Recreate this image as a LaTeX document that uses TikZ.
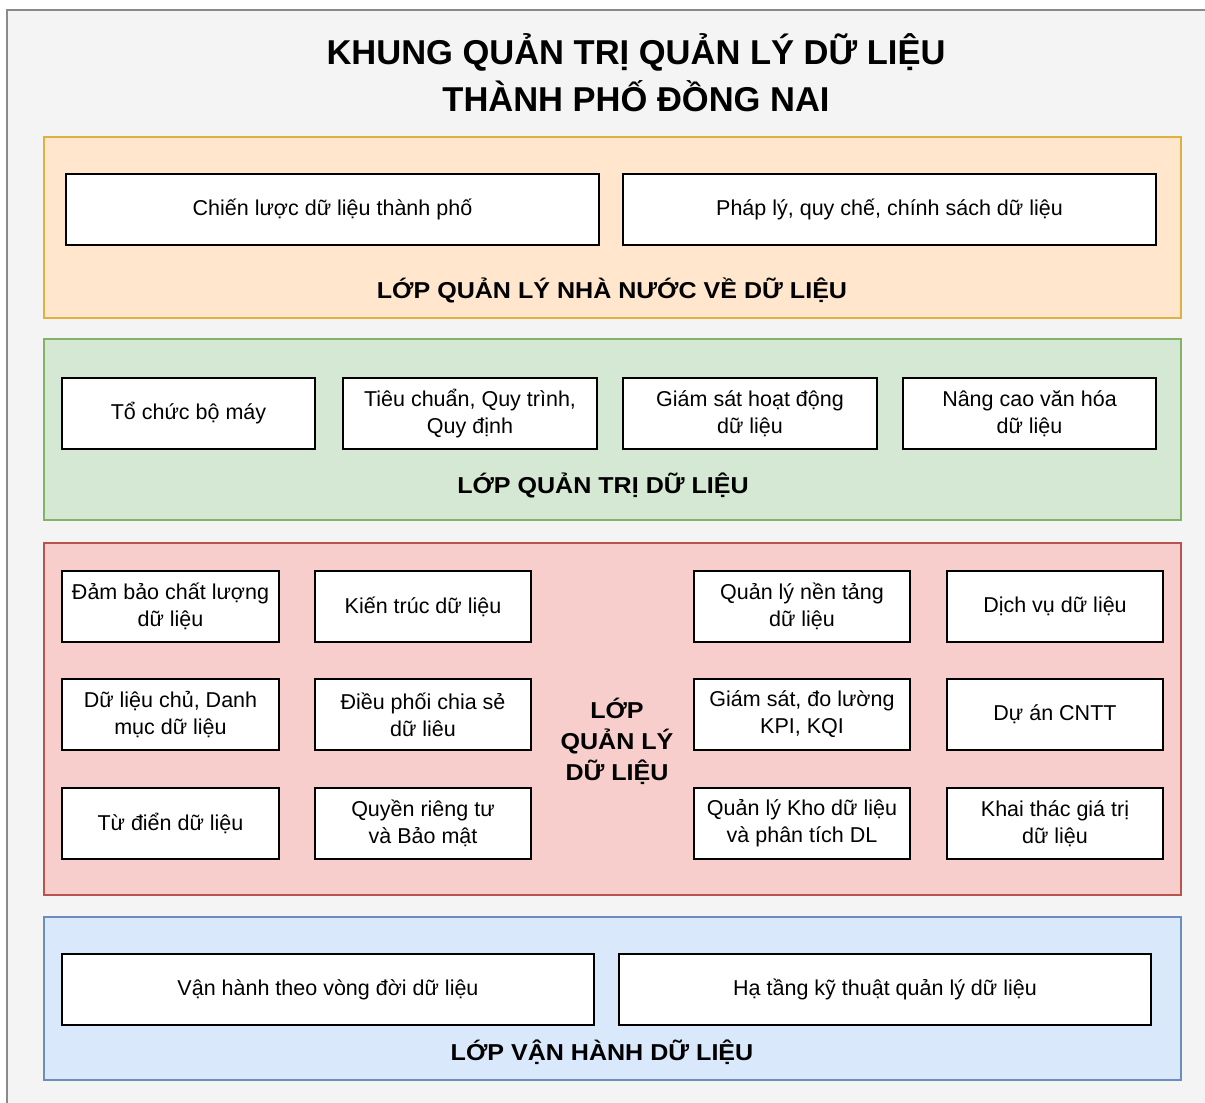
\documentclass[tikz,border=0pt]{standalone}
\usepackage{fontspec}
\setmainfont{Liberation Sans}
\definecolor{outerfill}{HTML}{F4F4F4}
\definecolor{outerdraw}{HTML}{8A8A8A}
\definecolor{orfill}{HTML}{FFE6CC}
\definecolor{ordraw}{HTML}{E0B040}
\definecolor{grfill}{HTML}{D5E8D4}
\definecolor{grdraw}{HTML}{82B366}
\definecolor{rdfill}{HTML}{F8CECC}
\definecolor{rddraw}{HTML}{B85450}
\definecolor{blfill}{HTML}{DAE8FC}
\definecolor{bldraw}{HTML}{6C8EBF}
\newcommand\wider[1]{\scalebox{1.09}[1]{#1}}
\begin{document}
\begin{tikzpicture}[x=1pt,y=-1pt,
  item/.style={draw=black, line width=1.3pt, fill=white, align=center, inner sep=0pt,
    font=\fontsize{21.5}{27}\selectfont, minimum height=71},
  layerbox/.style={line width=1.2pt, inner sep=0pt, minimum width=1137},
  ltitle/.style={font=\fontsize{23}{31}\selectfont\bfseries, align=center, inner sep=0pt},
  maintitle/.style={font=\fontsize{34.5}{47}\selectfont\bfseries, align=center, inner sep=0pt}
]
\useasboundingbox (0,0) rectangle (1205,1103);
\clip (0,0) rectangle (1205,1103);
\fill[white] (0,0) rectangle (1205,1103);
\draw[fill=outerfill, draw=outerdraw, line width=1.2pt] (7,10) rectangle (1240,1140);

\node[maintitle] (title) at (636,73) {KHUNG QUẢN TRỊ QUẢN LÝ DỮ LIỆU\\THÀNH PHỐ ĐỒNG NAI};

% layers
\node[layerbox, fill=orfill, draw=ordraw, minimum height=181] (L1) at (612.5,227.5) {};
\node[layerbox, fill=grfill, draw=grdraw, minimum height=181] (L2) at (612.5,429.5) {};
\node[layerbox, fill=rdfill, draw=rddraw, minimum height=352] (L3) at (612.5,719) {};
\node[layerbox, fill=blfill, draw=bldraw, minimum height=163] (L4) at (612.5,998.5) {};

% layer 1
\node[item, minimum width=533] (a1) at (332.5,209.5) {Chiến lược dữ liệu thành phố};
\node[item, minimum width=533] (a2) at (889.5,209.5) {Pháp lý, quy chế, chính sách dữ liệu};
\node[ltitle] (t1) at (612,290) {\wider{LỚP QUẢN LÝ NHÀ NƯỚC VỀ DỮ LIỆU}};

% layer 2
\node[item, minimum width=253] (b1) at (188.5,413.5) {Tổ chức bộ máy};
\node[item, minimum width=254] (b2) at (470,413.5) {Tiêu chuẩn, Quy trình,\\Quy định};
\node[item, minimum width=254] (b3) at (750,413.5) {Giám sát hoạt động\\dữ liệu};
\node[item, minimum width=253] (b4) at (1029.5,413.5) {Nâng cao văn hóa\\dữ liệu};
\node[ltitle] (t2) at (603,485) {\wider{LỚP QUẢN TRỊ DỮ LIỆU}};

% layer 3
\node[item, minimum width=217] (c11) at (170.5,606.5) {Đảm bảo chất lượng\\dữ liệu};
\node[item, minimum width=216] (c12) at (423,606.5) {Kiến trúc dữ liệu};
\node[item, minimum width=216] (c13) at (802,606.5) {Quản lý nền tảng\\dữ liệu};
\node[item, minimum width=216] (c14) at (1055,606.5) {Dịch vụ dữ liệu};
\node[item, minimum width=217] (c21) at (170.5,714.5) {Dữ liệu chủ, Danh\\mục dữ liệu};
\node[item, minimum width=216] (c22) at (423,714.5) {Điều phối chia sẻ\\dữ liêu};
\node[item, minimum width=216] (c23) at (802,714.5) {Giám sát, đo lường\\KPI, KQI};
\node[item, minimum width=216] (c24) at (1055,714.5) {Dự án CNTT};
\node[item, minimum width=217] (c31) at (170.5,823.5) {Từ điển dữ liệu};
\node[item, minimum width=216] (c32) at (423,823.5) {Quyền riêng tư\\và Bảo mật};
\node[item, minimum width=216] (c33) at (802,823.5) {Quản lý Kho dữ liệu\\và phân tích DL};
\node[item, minimum width=216] (c34) at (1055,823.5) {Khai thác giá trị\\dữ liệu};
\node[ltitle] (t3) at (617,741) {\wider{LỚP}\\\wider{QUẢN LÝ}\\\wider{DỮ LIỆU}};

% layer 4
\node[item, minimum width=532] (d1) at (328,989.5) {Vận hành theo vòng đời dữ liệu};
\node[item, minimum width=532] (d2) at (885,989.5) {Hạ tầng kỹ thuật quản lý dữ liệu};
\node[ltitle] (t4) at (602,1052) {\wider{LỚP VẬN HÀNH DỮ LIỆU}};
\end{tikzpicture}
\end{document}
